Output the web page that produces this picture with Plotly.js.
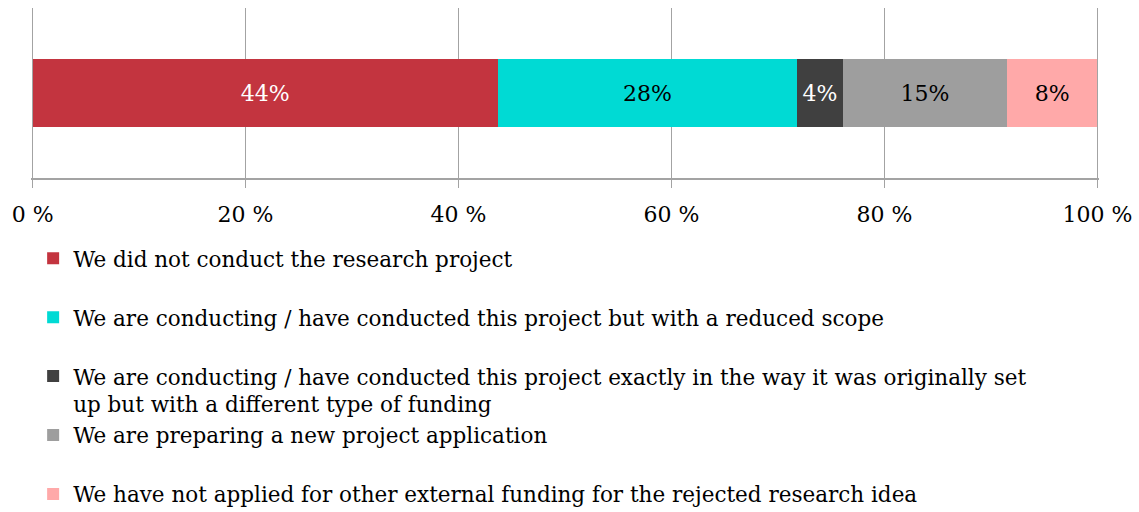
<!DOCTYPE html>
<html>
<head>
<meta charset="utf-8">
<script src="https://cdn.plot.ly/plotly-3.0.1.min.js"></script>
<style>html,body{margin:0;padding:0;background:#fff;}#chart{width:1139px;height:512px;}</style>
</head>
<body>
<div id="chart"></div>
<script>
var seriesNames = [
  "We did not conduct the research project",
  "We are conducting / have conducted this project but with a reduced scope",
  "We are conducting / have conducted this project exactly in the way it was originally set<br>up but with a different type of funding",
  "We are preparing a new project application",
  "We have not applied for other external funding for the rejected research idea"
];
var seriesValues = [43.7, 28.1, 4.3, 15.4, 8.5];
var seriesLabels = ["44%", "28%", "4%", "15%", "8%"];
var seriesColors = ["#C3343F", "#00DAD4", "#404040", "#9E9E9E", "#FFA9A9"];
var labelColors = ["#ffffff", "#000000", "#ffffff", "#000000", "#000000"];
var category = ["All"];
var tickValues = [0, 20, 40, 60, 80, 100];
var tickLabels = ["0 %", "20 %", "40 %", "60 %", "80 %", "100 %"];

var FONT = "DejaVu Serif, Georgia, serif";
var traces = seriesNames.map(function (name, i) {
  var twoLine = name.indexOf("<br>") >= 0;
  var last = i === seriesNames.length - 1;
  return {
    type: "bar",
    orientation: "h",
    name: (twoLine || last) ? name : name + "<br> ",
    x: [seriesValues[i]],
    y: category,
    text: [seriesLabels[i]],
    texttemplate: "%{text}",
    textposition: "inside",
    insidetextanchor: "middle",
    textangle: 0,
    constraintext: "none",
    textfont: {family: FONT, size: 22, color: labelColors[i]},
    marker: {color: seriesColors[i], line: {width: 0}},
    hoverinfo: "skip"
  };
});

var layout = {
  width: 1139,
  height: 512,
  margin: {l: 31, r: 40, t: 8, b: 334, autoexpand: false},
  paper_bgcolor: "#ffffff",
  plot_bgcolor: "#ffffff",
  barmode: "stack",
  bargap: 0.6,
  font: {family: FONT, size: 22, color: "#000000"},
  showlegend: true,
  legend: {
    orientation: "v",
    x: 0.002,
    xanchor: "left",
    y: -0.352,
    yanchor: "top",
    valign: "top",
    traceorder: "normal",
    maxheight: 1,
    font: {family: FONT, size: 21.5, color: "#000000"},
    bgcolor: "rgba(0,0,0,0)",
    itemclick: false,
    itemdoubleclick: false
  },
  xaxis: {
    range: [-0.15, 100.15],
    tickmode: "array",
    tickvals: tickValues,
    ticktext: tickLabels,
    showgrid: true,
    gridcolor: "#A3A3A3",
    gridwidth: 1.5,
    zeroline: false,
    showline: true,
    linecolor: "#A3A3A3",
    linewidth: 1.5,
    ticks: "outside",
    ticklen: 8,
    tickwidth: 1.5,
    tickcolor: "#A3A3A3",
    ticklabelstandoff: 8,
    tickfont: {family: FONT, size: 22, color: "#000000"},
    automargin: false,
    fixedrange: true
  },
  yaxis: {
    showticklabels: false,
    showgrid: false,
    zeroline: false,
    showline: false,
    range: [-0.5, 0.5],
    fixedrange: true
  }
};

Plotly.newPlot("chart", traces, layout, {displayModeBar: false, staticPlot: true});
</script>
</body>
</html>
